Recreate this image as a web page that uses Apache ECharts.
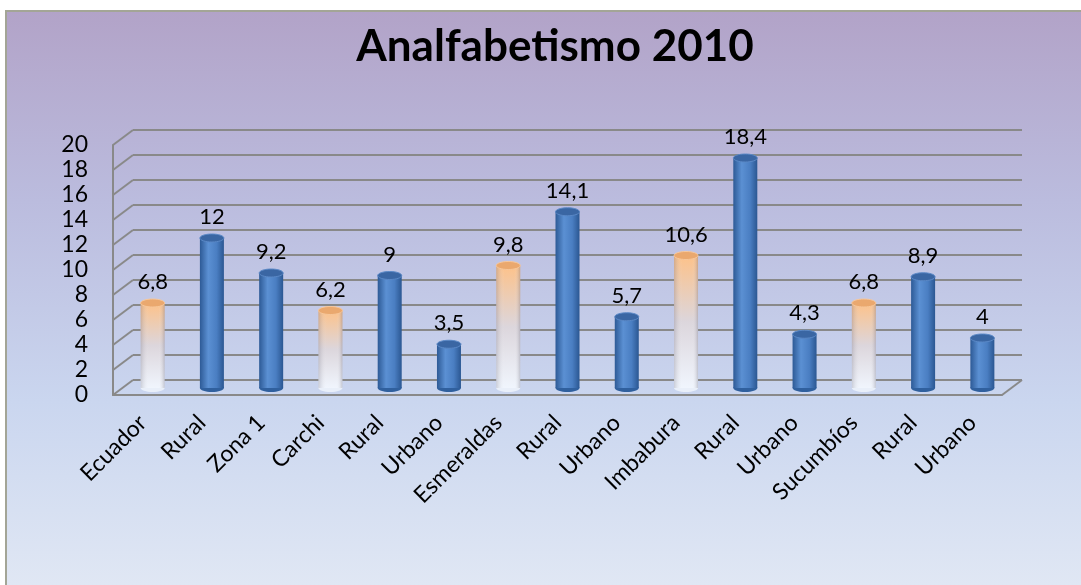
<!DOCTYPE html>
<html>
<head>
<meta charset="utf-8">
<script src="https://cdn.jsdelivr.net/npm/echarts@6/dist/echarts.min.js"></script>
<style>
html, body { margin: 0; padding: 0; background: #fff; }
#frame {
    position: absolute; left: 5px; top: 10px; width: 1076px; height: 575px;
    box-sizing: border-box;
    border-left: 2px solid #a3a596; border-top: 2px solid #a3a596;
    background: linear-gradient(to bottom, #b2a3c8 0%, #bbbcde 33%, #cad6ef 68%, #e0e7f4 100%);
}
#main { position: absolute; left: 0; top: 0; width: 1081px; height: 585px; }
</style>
</head>
<body>
<div id="frame"></div>
<div id="main"></div>
<script>
// datos
var categorias = ['Ecuador', 'Rural', 'Zona 1', 'Carchi', 'Rural', 'Urbano', 'Esmeraldas', 'Rural', 'Urbano', 'Imbabura', 'Rural', 'Urbano', 'Sucumbíos', 'Rural', 'Urbano'];
var valores = [6.8, 12, 9.2, 6.2, 9, 3.5, 9.8, 14.1, 5.7, 10.6, 18.4, 4.3, 6.8, 8.9, 4];
// true = total de provincia/pais (cilindro naranja)
var esTotal = [true, false, false, true, false, false, true, false, false, true, false, false, true, false, false];
var yTicks = [0, 2, 4, 6, 8, 10, 12, 14, 16, 18, 20];

var fuente = 'Lato, "Open Sans", sans-serif';
var gris = '#898989';

function formato(v) {
    return String(v).replace('.', ',');
}

var chart = echarts.init(document.getElementById('main'));

// cilindros, desplazados hacia el fondo (pseudo 3D)
function renderCilindro(params, api) {
    var i = api.value(0), v = api.value(1);
    var top = api.coord([i, v]), base = api.coord([i, 0]);
    var cx = top[0] + 10, yt = top[1] - 7, yb = base[1] - 7;
    var w = 24, ry = 4;
    var tot = esTotal[params.dataIndex];
    var cuerpo = tot
        ? new echarts.graphic.LinearGradient(0, 0, 0, 1, [
            { offset: 0, color: '#fdc28a' },
            { offset: 0.5, color: '#dcd6dc' },
            { offset: 1, color: '#f0f5fd' }])
        : new echarts.graphic.LinearGradient(0, 0, 1, 0, [
            { offset: 0, color: '#2d5a96' },
            { offset: 0.35, color: '#5b90d3' },
            { offset: 0.7, color: '#4a7ec2' },
            { offset: 1, color: '#2b5792' }]);
    var sombra = tot
        ? new echarts.graphic.LinearGradient(0, 0, 1, 0, [
            { offset: 0, color: 'rgba(90,90,110,0.25)' },
            { offset: 0.35, color: 'rgba(255,255,255,0)' },
            { offset: 0.75, color: 'rgba(255,255,255,0)' },
            { offset: 1, color: 'rgba(90,90,110,0.3)' }])
        : null;
    var hijos = [
        { type: 'ellipse', shape: { cx: cx, cy: yb, rx: w / 2, ry: ry }, style: { fill: tot ? '#e9eff9' : '#30609e' } },
        { type: 'rect', shape: { x: cx - w / 2, y: yt, width: w, height: yb - yt }, style: { fill: cuerpo } }
    ];
    if (sombra) {
        hijos.push({ type: 'rect', shape: { x: cx - w / 2, y: yt, width: w, height: yb - yt }, style: { fill: sombra } });
    }
    hijos.push(
        { type: 'ellipse', shape: { cx: cx, cy: yt, rx: w / 2, ry: ry }, style: { fill: tot ? '#eaa86e' : '#3a66a3', stroke: tot ? '#f7c79a' : '#5a88c6', lineWidth: 1 } },
        {
            type: 'text',
            style: {
                text: formato(v), x: cx, y: yt - 10, align: 'center', verticalAlign: 'bottom',
                fontSize: 22, fontFamily: fuente, fill: '#000'
            }
        }
    );
    return { type: 'group', children: hijos };
}

// diagonales de la pared lateral
function renderDiagonal(params, api) {
    var pt = api.coord([api.value(0), api.value(1)]);
    var half = api.size([1, 0])[0] / 2;
    var x0 = params.seriesIndex === 1 ? pt[0] - half : pt[0] + half;
    return {
        type: 'line',
        shape: { x1: x0, y1: pt[1], x2: x0 + 20, y2: pt[1] - 15 },
        style: { stroke: gris, lineWidth: 2 }
    };
}

var option = {
    animation: false,
    title: {
        text: 'Analfabetismo 2010',
        left: 550,
        textAlign: 'center',
        top: 20,
        textStyle: { fontFamily: fuente, fontSize: 44, fontWeight: 'bold', color: '#000' }
    },
    grid: [
        { left: 133, top: 130, width: 889, height: 250 },
        { left: 113, top: 145, width: 889, height: 250 }
    ],
    xAxis: [
        { gridIndex: 0, type: 'category', data: categorias, show: false },
        {
            gridIndex: 1, type: 'category', data: categorias,
            axisLine: { lineStyle: { color: gris, width: 2 } },
            axisTick: { show: false },
            axisLabel: { interval: 0, rotate: 45, margin: 24, fontSize: 23, fontFamily: fuente, color: '#000' }
        }
    ],
    yAxis: [
        {
            gridIndex: 0, type: 'value', min: 0, max: 20, interval: 2,
            axisLine: { show: false }, axisTick: { show: false }, axisLabel: { show: false },
            splitLine: { lineStyle: { color: gris, width: 2 } }
        },
        {
            gridIndex: 1, type: 'value', min: 0, max: 20, interval: 2,
            axisLine: { show: true, lineStyle: { color: gris, width: 2 } },
            axisTick: { show: false },
            splitLine: { show: false },
            axisLabel: { margin: 25, fontSize: 23, fontFamily: fuente, color: '#000' }
        }
    ],
    series: [
        {
            type: 'custom', xAxisIndex: 1, yAxisIndex: 1,
            data: valores.map(function (v, i) { return [i, v]; }),
            renderItem: renderCilindro, z: 5
        },
        {
            type: 'custom', xAxisIndex: 1, yAxisIndex: 1,
            data: yTicks.map(function (t) { return [0, t]; }),
            renderItem: renderDiagonal, silent: true, z: 2
        },
        {
            type: 'custom', xAxisIndex: 1, yAxisIndex: 1,
            data: [[categorias.length - 1, 0]],
            renderItem: renderDiagonal, silent: true, z: 2
        }
    ]
};

chart.setOption(option);
</script>
</body>
</html>
